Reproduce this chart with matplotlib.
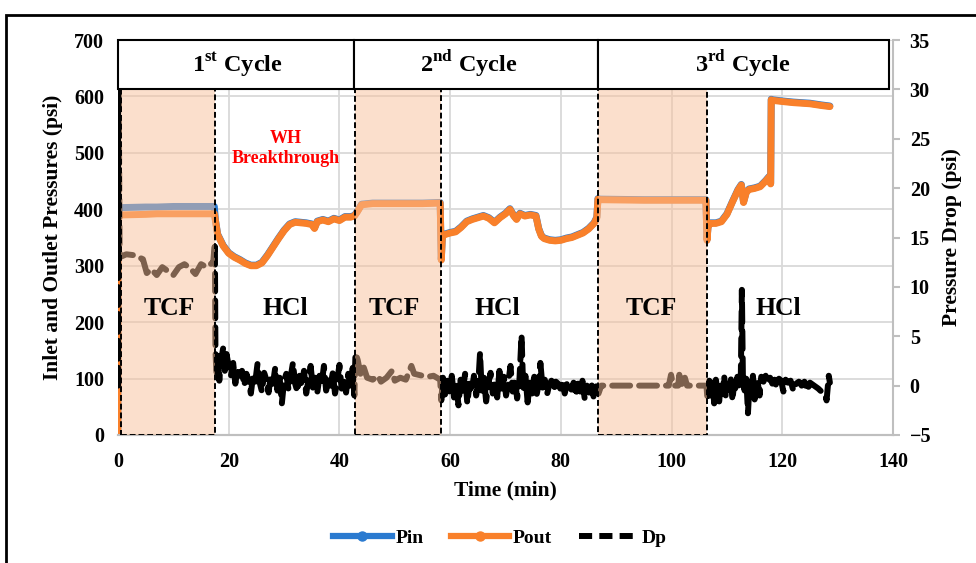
import matplotlib
matplotlib.use("Agg")
import matplotlib.pyplot as plt
from matplotlib.patches import Rectangle
from matplotlib.lines import Line2D

plt.rcParams['font.family'] = ['Liberation Serif', 'DejaVu Serif']
plt.rcParams['font.weight'] = 'bold'
plt.rcParams['axes.labelweight'] = 'bold'
plt.rcParams['mathtext.fontset'] = 'custom'
plt.rcParams['mathtext.rm'] = 'Liberation Serif:bold'
plt.rcParams['mathtext.bf'] = 'Liberation Serif:bold'

# ---------------- data ----------------
time_p = [0, 0.05, 0.15, 0.3, 0.6, 5, 7, 10, 15, 17.4,
          17.6, 18, 19, 20, 21, 22, 23, 24, 25, 26, 27, 28, 29, 30, 31, 32, 33, 34, 35, 35.5, 36, 37, 38, 39, 40, 41, 42, 42.7,
          43.2, 44, 46, 50, 55, 58.2,
          58.4, 58.6, 59, 60, 61, 62, 63, 64, 65, 66, 67, 68, 69, 70, 70.8, 71.5, 72, 72.6, 73.5, 74.5,
          75.5, 76, 76.5, 77, 78, 79, 80, 81, 82, 83, 84, 85, 86, 86.5,
          86.7, 87, 95, 106.2,
          106.4, 106.6, 107, 108, 109, 110, 111, 112, 112.6, 113, 113.5, 114, 115, 116, 117, 117.6, 117.9,
          118.0, 118.3, 120, 122, 125, 127, 128.6]
pin_v = [0, 404, 404, 403, 403, 404, 404, 405, 405, 405,
         381, 356, 336, 323, 316, 311, 305, 301, 301, 306, 319, 334, 349, 363, 374, 378, 377, 376, 374, 367, 379, 382, 379, 384, 381, 387, 387, 389,
         396, 409, 411, 411, 411, 412,
         311, 353, 356, 359, 361, 369, 379, 383, 386, 389, 385, 377, 386, 393, 401, 389, 383, 393, 389, 391,
         389, 366, 353, 349, 346, 345, 346, 349, 351, 355, 359, 366, 376, 386,
         419, 418, 417, 417,
         346, 371, 376, 376, 379, 392, 414, 435, 444, 413, 431, 436, 438, 441, 451, 458, 446,
         595, 594, 592, 590, 588, 585, 583]
pout_v = [0, 370, 387, 390, 390, 391, 392, 392, 392, 392,
          380, 355, 335, 322, 315, 310, 304, 300, 300, 305, 318, 333, 348, 362, 373, 377, 376, 375, 373, 366, 378, 381, 378, 383, 380, 386, 386, 388,
          395, 408, 410, 410, 410, 411,
          310, 352, 355, 358, 360, 368, 378, 382, 385, 388, 384, 376, 385, 392, 400, 388, 382, 392, 388, 390,
          388, 365, 352, 348, 345, 344, 345, 348, 350, 354, 358, 365, 375, 385,
          418, 417, 416, 416,
          345, 370, 375, 375, 378, 391, 413, 434, 443, 412, 430, 435, 437, 440, 450, 457, 445,
          594, 593, 591, 589, 587, 584, 582]

dp_tcf1_t = [0, 0.05, 0.3, 1.5, 3, 4.5, 5.2, 6, 7, 8, 9, 10, 11, 12, 13, 14, 15, 16, 17.2, 17.5]
dp_tcf1_v = [0, 38, 13.0, 13.3, 13.2, 12.8, 11.4, 11.8, 11.2, 12.0, 11.6, 11.2, 12.0, 12.3, 11.9, 11.3, 12.3, 12.0, 12.5, 14.5]

dp_hcl1_t = [17.6, 17.8, 18.0, 18.3, 18.6, 19.0, 19.3, 19.6, 20.0, 20.4,
             20.8, 21.2, 21.6, 22.0, 22.4, 22.8, 23.2, 23.6, 24.0, 24.4,
             24.8, 25.2, 25.6, 26.0, 26.4, 26.8, 27.2, 27.6, 28.0, 28.4,
             28.8, 29.2, 29.6, 30.0, 30.4, 30.8, 31.2, 31.6, 32.0, 32.4,
             32.8, 33.2, 33.6, 34.0, 34.4, 34.8, 35.2, 35.6, 36.0, 36.4,
             36.8, 37.2, 37.6, 38.0, 38.4, 38.8, 39.2, 39.6, 40.0, 40.4,
             40.8, 41.2, 41.6, 42.0, 42.4, 42.7]
dp_hcl1_v = [3.5, 1.0, 3.0, 0.5, 2.5, 3.8, 1.5, 3.2, 2.0, 1.0,
             2.3, 0.2, 1.8, 1.0, 1.5, 0.0, 1.2, 0.5, -0.8, 1.0,
             0.4, 2.2, 0.3, -0.6, 1.3, 0.6, -0.7, 1.0, 0.2, 1.8,
             -0.5, 0.8, -1.8, 0.5, 1.2, -0.4, 0.9, 2.3, 0.2, -0.6,
             1.0, 0.0, 1.5, -0.8, 0.6, 2.0, -0.2, 0.8, -0.7, 1.0,
             0.2, 2.0, -0.5, 0.7, 0.0, 1.3, -0.8, 0.5, 2.1, -0.3,
             0.8, -0.7, 1.2, 0.0, 1.8, -1.0]

dp_tcf2_t = [42.9, 43.3, 43.8, 44.3, 45, 46, 47, 47.5, 48.5, 49.5, 50, 51, 52, 53, 53.5, 55, 56, 57, 58.2]
dp_tcf2_v = [3.3, 2.6, 1.2, 2.0, 0.8, 0.6, 1.0, 0.4, 0.8, 1.5, 0.5, 0.8, 0.6, 2.0, 1.2, 1.0, 0.9, 1.0, 0.6]

dp_hcl2_t = [58.4, 58.7, 59.1, 59.5, 59.9, 60.3, 60.7, 61.1, 61.5, 61.9,
             62.3, 62.7, 63.1, 63.5, 63.9, 64.3, 64.7, 65.1, 65.4, 65.7,
             66.1, 66.5, 66.9, 67.3, 67.7, 68.1, 68.5, 68.9, 69.3, 69.7,
             70.1, 70.5, 70.9, 71.3, 71.7, 72.1, 72.5, 72.9, 73.2, 73.6,
             74.0, 74.4, 74.8, 75.2, 75.6, 76.0, 76.3, 76.7, 77.1, 77.5,
             77.9, 78.3, 78.7, 79.1, 79.5, 79.9, 80.3, 80.7, 81.1, 81.5,
             81.9, 82.3, 82.7, 83.1, 83.5, 83.9, 84.3, 84.7, 85.1, 85.5,
             85.9, 86.3, 86.6]
dp_hcl2_v = [-1.5, 0.8, -1.0, 0.5, -0.8, 1.0, -1.2, 0.3, -2.0, 0.6,
             -0.5, 1.2, -1.8, 0.2, -0.6, 1.0, -1.0, 0.4, 3.3, -0.5,
             0.8, -1.6, 0.2, 1.3, -0.8, 0.5, -1.2, 1.5, -0.3, 0.9,
             -1.0, 0.3, 2.0, -0.6, 0.7, -1.3, 0.4, 5.1, -0.4, 1.0,
             -1.7, 0.3, -0.8, 0.9, -1.0, 0.2, 2.3, -0.2, 0.6, -0.9,
             0.1, 0.5, -0.5, 0.4, 0.2, -0.3, 0.5, -0.8, 0.2, 0.4,
             -0.4, 0.3, -1.0, 0.2, -0.6, 0.5, -1.3, 0.0, -0.7, 0.4,
             -1.1, 0.2, -0.5]

dp_tcf3_t = [86.8, 87.3, 90, 95, 99.5, 99.9, 100.3, 101.2, 101.4, 101.7, 102.4, 102.8, 106.3]
dp_tcf3_v = [-0.8, 0.0, 0.0, 0.0, 0.0, 1.1, 0.0, 0.0, 1.1, 0.0, 0.8, 0.0, 0.0]

dp_hcl3_t = [106.5, 106.8, 107.1, 107.4, 107.7, 108.0, 108.3, 108.6, 108.9, 109.2,
             109.5, 109.8, 110.1, 110.4, 110.7, 111.0, 111.3, 111.6, 111.9, 112.2,
             112.5, 112.7, 112.9, 113.2, 113.5, 113.8, 114.1, 114.4, 114.7, 115.0,
             115.3, 115.6, 115.9, 116.2, 116.6, 117.0, 117.4, 117.8, 118.2, 118.6,
             119.0, 119.4, 119.8, 120.2, 120.6, 121.0, 121.5, 122.0, 122.5, 123.0,
             123.5, 124.0, 124.5, 125.0, 126.5, 127.8, 128.0, 128.4, 128.6]
dp_hcl3_v = [-1.5, 0.5, -1.0, 0.3, -1.8, 0.6, -0.5, -1.6, 0.4, -0.8,
             1.0, -1.2, 0.2, -0.4, 0.8, -1.5, 0.3, -0.6, 0.9, -0.3,
             0.5, 9.7, 0.2, -0.5, 0.8, -2.8, 0.4, -0.7, 1.0, -1.4,
             0.6, 0.2, -1.0, 0.9, 0.4, 1.0, 0.3, 0.8, 0.2, 0.6,
             -0.2, 0.7, 0.5, -0.6, 0.6, 0.3, 0.5, -0.5, 0.2, 0.4,
             0.0, 0.4, -0.5, 0.3, -0.3, -1.0, -1.5, 1.0, 0.3]

dp_t = dp_tcf1_t + dp_hcl1_t + dp_tcf2_t + dp_hcl2_t + dp_tcf3_t + dp_hcl3_t
dp_v = dp_tcf1_v + dp_hcl1_v + dp_tcf2_v + dp_hcl2_v + dp_tcf3_v + dp_hcl3_v

# TCF stage windows (min) and cycle header spans (min)
tcf_start = [0.5, 42.8, 86.7]
tcf_end = [17.5, 58.3, 106.4]
cycle_start = [0, 42.6, 86.7]
cycle_end = [42.6, 86.7, 139.2]
cycle_labels = [r'1$^{\rm st}$ Cycle', r'2$^{\rm nd}$ Cycle', r'3$^{\rm rd}$ Cycle']
cycle_label_x = [21.5, 63.4, 112.9]
stage_labels = ['TCF', 'HCl', 'TCF', 'HCl', 'TCF', 'HCl']
stage_label_x = [9.2, 30.2, 49.9, 68.6, 96.3, 119.2]

x_ticks = [0, 20, 40, 60, 80, 100, 120, 140]
y_ticks = [0, 100, 200, 300, 400, 500, 600, 700]
y2_ticks = [-5, 0, 5, 10, 15, 20, 25, 30, 35]

BLUE = '#2A7AD0'
ORANGE = '#F9802A'
GRID = '#D9D9D9'
SPINE = '#BFBFBF'

fig = plt.figure(figsize=(9.76, 5.63), dpi=100)
ax = fig.add_axes([118 / 976, 128 / 563, 775 / 976, 395 / 563])
ax2 = ax.twinx()

ax.plot(time_p, pin_v, color=BLUE, lw=5, solid_capstyle='round', solid_joinstyle='round', zorder=3)
ax.plot(time_p, pout_v, color=ORANGE, lw=5, solid_capstyle='round', solid_joinstyle='round', zorder=4)
ax2.plot(dp_t, dp_v, color='black', lw=4.3, ls=(0, (3, 1.5)), dash_capstyle='round', zorder=3)

ax.set_xlim(0, 140)
ax.set_ylim(0, 700)
ax2.set_ylim(-5, 35)
ax.set_xticks(x_ticks)
ax.set_yticks(y_ticks)
ax2.set_yticks(y2_ticks)

ax.grid(True, color=GRID, lw=1.3)
ax.set_axisbelow(True)
for a in (ax, ax2):
    a.spines['top'].set_visible(False)
    a.spines['left'].set_visible(False)
    a.spines['bottom'].set_color(SPINE)
    a.spines['bottom'].set_linewidth(1.5)
ax.spines['right'].set_visible(False)
ax2.spines['right'].set_color(SPINE)
ax2.spines['right'].set_linewidth(1.5)

ax.tick_params(axis='both', length=0, labelsize=14.5)
ax.tick_params(axis='y', pad=10)
ax.tick_params(axis='x', pad=12)
ax2.tick_params(axis='y', length=5, color=SPINE, width=1.5, labelsize=14.5, pad=7)

ax.set_xlabel('Time (min)', fontsize=15.5, labelpad=6)
ax.set_ylabel('Inlet and Outlet Pressures (psi)', fontsize=15.5, labelpad=8)
ax2.set_ylabel('Pressure Drop (psi)', fontsize=15.5, labelpad=8)

# TCF shaded windows (drawn over the series)
for s, e in zip(tcf_start, tcf_end):
    ax2.add_patch(Rectangle((s, 0), e - s, 614, transform=ax.transData,
                            facecolor='#F9C19B', alpha=0.5, edgecolor='none', zorder=5))
    ax2.add_patch(Rectangle((s, 0), e - s, 614, transform=ax.transData,
                            fill=False, edgecolor='black', lw=1.4, ls=(0, (3, 1.5)), zorder=6))

# cycle header boxes
for s, e, lab, xc in zip(cycle_start, cycle_end, cycle_labels, cycle_label_x):
    ax2.add_patch(Rectangle((s, 614), e - s, 86, transform=ax.transData,
                            facecolor='white', edgecolor='black', lw=1.5, zorder=7, clip_on=False))
    ax2.text(xc, 657, lab, transform=ax.transData, ha='center', va='center',
             fontsize=17.5, fontweight='bold', zorder=8)

for lab, xc in zip(stage_labels, stage_label_x):
    ax2.text(xc, 225, lab, transform=ax.transData, ha='center', va='center',
             fontsize=18.5, fontweight='bold', zorder=8)

ax2.text(30.3, 508, 'WH\nBreakthrough', transform=ax.transData, ha='center', va='center',
         fontsize=13, fontweight='bold', color='red', linespacing=1.27, zorder=8)

handles = [Line2D([], [], color=BLUE, lw=4.5, marker='o', ms=6.5),
           Line2D([], [], color=ORANGE, lw=4.5, marker='o', ms=6.5),
           Line2D([], [], color='black', lw=4.3, ls=(0, (2.2, 1.2)))]
fig.legend(handles, ['Pin', 'Pout', 'Dp'], loc='center', bbox_to_anchor=(500 / 976, 1 - 538 / 563),
           ncol=3, frameon=False, handlelength=3.0, columnspacing=1.4, handletextpad=0.2,
           prop={'weight': 'bold', 'size': 14})

fig.add_artist(Rectangle((6 / 976, -0.05), 1.2, 1.05 - 15 / 563, transform=fig.transFigure,
                         fill=False, edgecolor='black', lw=2))

fig.savefig('out.png', dpi=100)
